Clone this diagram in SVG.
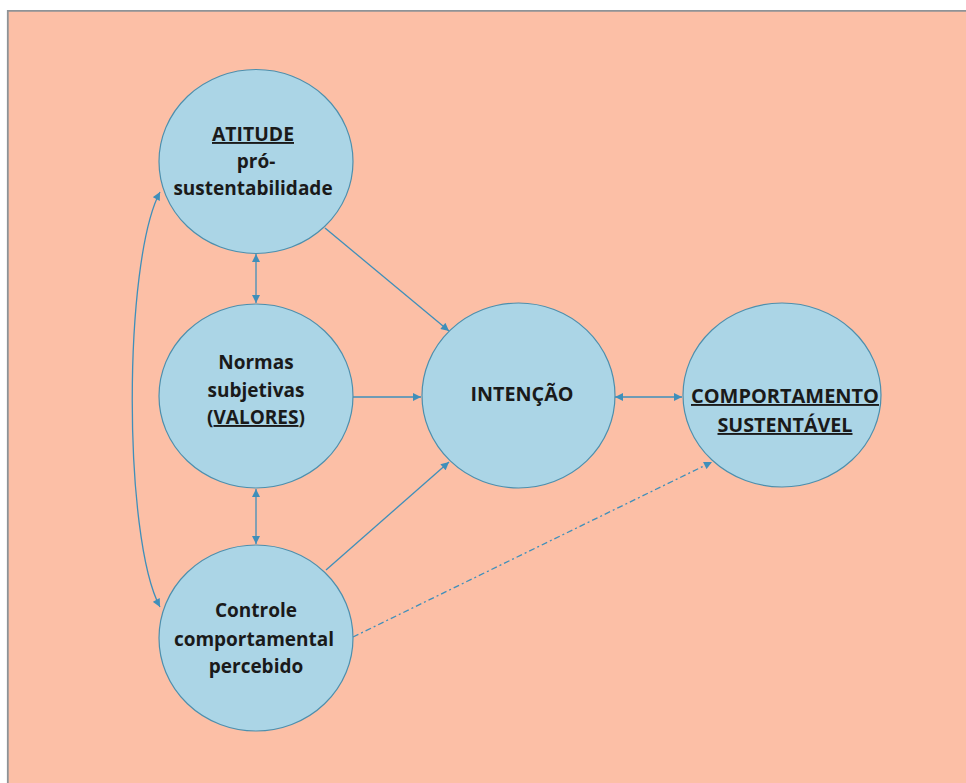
<svg xmlns="http://www.w3.org/2000/svg" width="966" height="783" viewBox="0 0 966 783">
<style>
.node ellipse{fill:#abd5e6;stroke:#4d8fad;stroke-width:1.2}
.node text{font-family:"Open Sans","Liberation Sans",sans-serif;font-weight:bold;font-size:19px;fill:#1a1a1a;text-anchor:middle}
.u{text-decoration:underline}
.conn path{fill:none;stroke:#3f8fba;stroke-width:1.3}
.dash{stroke-dasharray:6 3 2 3}
</style>
<defs>
<marker id="ah" viewBox="0 0 10 10" refX="10" refY="5" markerWidth="9" markerHeight="8" markerUnits="userSpaceOnUse" orient="auto-start-reverse">
<path d="M0,0 L10,5 L0,10 z" fill="#3f8fba"/>
</marker>
</defs>
<rect x="0" y="0" width="966" height="783" fill="#ffffff"/>
<rect x="7" y="10" width="959" height="773" fill="#fcbfa6"/>
<path d="M7.8,783 V10.8 H966" fill="none" stroke="#8e9397" stroke-width="1.8"/>
<g id="connectors" class="conn">
<path d="M256,254 V303" marker-start="url(#ah)" marker-end="url(#ah)"/>
<path d="M256,489 V544" marker-start="url(#ah)" marker-end="url(#ah)"/>
<path d="M325,228 L449,331" marker-end="url(#ah)"/>
<path d="M353,397 H421" marker-end="url(#ah)"/>
<path d="M326,570 L449,462" marker-end="url(#ah)"/>
<path d="M615,397 H682" marker-start="url(#ah)" marker-end="url(#ah)"/>
<path class="dash" d="M353,637 L712,462" marker-end="url(#ah)"/>
<path d="M160,192 C123,262 123,538 160,607" marker-start="url(#ah)" marker-end="url(#ah)"/>
</g>
<g id="atitude" class="node">
<ellipse cx="256" cy="161.5" rx="97" ry="92"/>
<text x="253" y="141" class="u" textLength="82" lengthAdjust="spacingAndGlyphs">ATITUDE</text>
<text x="256" y="168">pró-</text>
<text x="253" y="195">sustentabilidade</text>
</g>
<g id="normas" class="node">
<ellipse cx="256" cy="396" rx="97" ry="92"/>
<text x="256" y="369">Normas</text>
<text x="256" y="397">subjetivas</text>
<text x="256" y="424">(<tspan class="u">VALORES</tspan>)</text>
</g>
<g id="controle" class="node">
<ellipse cx="256" cy="638" rx="97" ry="93"/>
<text x="256" y="617">Controle</text>
<text x="254" y="646">comportamental</text>
<text x="256" y="673">percebido</text>
</g>
<g id="intencao" class="node">
<ellipse cx="518.5" cy="395.5" rx="96.5" ry="92.5"/>
<text x="522" y="401" textLength="103" lengthAdjust="spacingAndGlyphs">INTENÇÃO</text>
</g>
<g id="comportamento" class="node">
<ellipse cx="782" cy="395" rx="99" ry="92"/>
<text x="785" y="403" class="u" textLength="188" lengthAdjust="spacingAndGlyphs">COMPORTAMENTO</text>
<text x="785" y="432" class="u" textLength="135" lengthAdjust="spacingAndGlyphs">SUSTENTÁVEL</text>
</g>
</svg>
